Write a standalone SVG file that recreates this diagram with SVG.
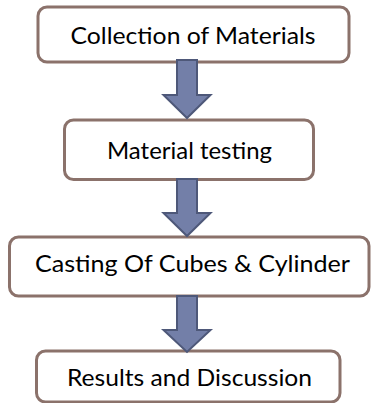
<svg xmlns="http://www.w3.org/2000/svg" width="371" height="403" viewBox="0 0 371 403">
  <style>
    .box { fill: #ffffff; stroke: #8b726b; stroke-width: 3; }
    .label { font-family: "Lato", "Liberation Sans", sans-serif; font-size: 24px; fill: #000000; text-anchor: middle; }
    .arrow { fill: #737fa8; stroke: #4e5879; stroke-width: 2; stroke-linejoin: miter; }
  </style>
  <rect width="371" height="403" fill="#ffffff"/>

  <g id="node-collection">
    <rect class="box" x="38" y="7" width="311" height="55" rx="9"/>
    <text class="label" x="193" y="43.5" textLength="245" lengthAdjust="spacingAndGlyphs">Collection of Materials</text>
  </g>

  <g id="node-testing">
    <rect class="box" x="64.5" y="120" width="249" height="59.5" rx="9"/>
    <text class="label" x="189.5" y="158.5" textLength="165" lengthAdjust="spacingAndGlyphs">Material testing</text>
  </g>

  <g id="node-casting">
    <rect class="box" x="9.5" y="237" width="359.5" height="59" rx="9"/>
    <text class="label" x="192.5" y="271.5" textLength="315" lengthAdjust="spacingAndGlyphs">Casting Of Cubes &amp; Cylinder</text>
  </g>

  <g id="node-results">
    <rect class="box" x="36.5" y="351" width="303.5" height="51" rx="9"/>
    <text class="label" x="189.5" y="385.5" textLength="245" lengthAdjust="spacingAndGlyphs">Results and Discussion</text>
  </g>

  <!-- block arrows between steps, drawn over the box borders -->
  <g id="connectors">
    <path class="arrow" d="M177,60 H197 V95 H210.5 L187,118 L163.5,95 H177 Z"/>
    <path class="arrow" d="M177,179 H197 V213 H210.5 L187,236 L163.5,213 H177 Z"/>
    <path class="arrow" d="M177,296 H197 V330 H210.5 L187,352 L163.5,330 H177 Z"/>
  </g>
</svg>
